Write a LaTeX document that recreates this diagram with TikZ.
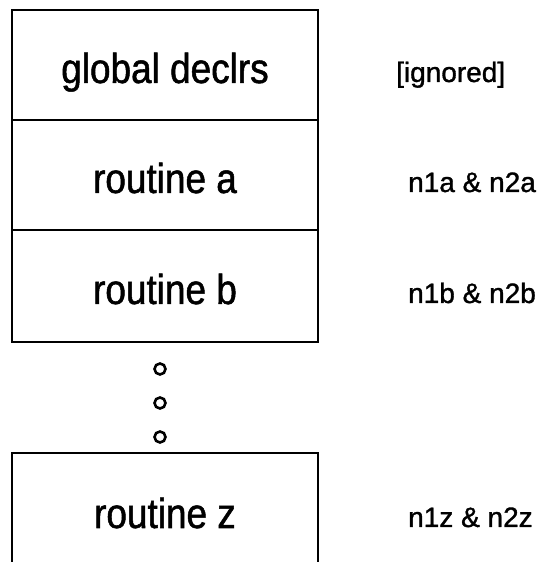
\documentclass[tikz,border=0pt]{standalone}
\usepackage{fontspec}
\setmainfont{Liberation Sans}[FakeBold=1.2]
\newfontfamily\boxfont{Liberation Sans}[FakeStretch=0.88, FakeBold=1.2]
\usetikzlibrary{positioning}

\tikzset{
  block/.style={draw, line width=1.8pt, outer sep=0pt, inner sep=0pt,
    minimum width=306pt, minimum height=110pt,
    text height=36pt, text depth=0pt,
    font=\boxfont\fontsize{42}{44}\selectfont},
  note/.style={anchor=west, inner sep=0pt, text height=34pt, text depth=0pt,
    font=\fontsize{28}{30}\selectfont},
  dot/.style={circle, draw, line width=2.6pt, outer sep=0pt, inner sep=0pt,
    minimum size=11pt},
}

\begin{document}
\begin{tikzpicture}[x=1pt, y=1pt]
  \useasboundingbox (0,0) rectangle (540,562);
  \clip (0,0) rectangle (540,562);

  % stack of sections
  \node[block] (glob) at (165,497) {global declrs};
  \node[block, below=0pt of glob] (rta) {routine a};
  \node[block, below=0pt of rta, minimum height=112pt] (rtb) {routine b};

  % more routines in between
  \node[dot, below=21.5pt of rtb, xshift=-5pt] (d1) {};
  \node[dot, below=23pt of d1] (d2) {};
  \node[dot, below=23pt of d2] (d3) {};

  \node[block, below=10.5pt of d3, xshift=5pt, minimum height=114pt] (rtz) {routine z};

  % what each section gives
  \node[note, right=78pt of glob.east] (ign) {[ignored]};
  \node[note, right=90pt of rta.east] (na) {n1a \& n2a};
  \node[note, right=90pt of rtb.east] (nb) {n1b \& n2b};
  \node[note, right=90pt of rtz.east] (nz) {n1z \& n2z};
\end{tikzpicture}
\end{document}
